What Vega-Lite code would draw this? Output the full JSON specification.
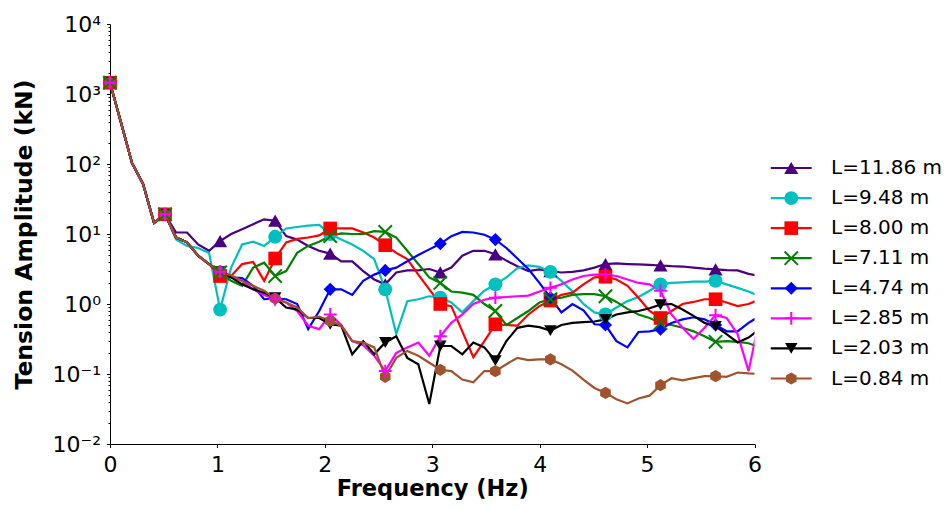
{
  "$schema": "https://vega.github.io/schema/vega-lite/v6.json",
  "padding": {"left": 12, "top": 13, "right": 0, "bottom": 0},
  "bounds": "flush",
  "spacing": 10,
  "config": {
    "font": "DejaVu Sans",
    "view": {"stroke": null},
    "axis": {"labelColor": "black", "titleColor": "black", "tickColor": "black", "domainColor": "black", "grid": false, "labelFlush": false, "labelOverlap": false}
  },
  "datasets": {
    "d": [
      {"i":0,"f":0,"p":1450,"c":1450,"r":1450,"g":1450,"b":1450,"m":1450,"k":1450,"n":1450},
      {"i":1,"f":0.1025,"p":390,"c":390,"r":390,"g":390,"b":390,"m":390,"k":390,"n":390},
      {"i":2,"f":0.205,"p":103,"c":103,"r":103,"g":103,"b":103,"m":103,"k":103,"n":103},
      {"i":3,"f":0.3075,"p":52,"c":52,"r":52,"g":52,"b":52,"m":52,"k":52,"n":52},
      {"i":4,"f":0.41,"p":14.4,"c":14.4,"r":14.4,"g":14.4,"b":14.4,"m":14.4,"k":14.4,"n":14.4},
      {"i":5,"f":0.5125,"p":19.1,"c":19.1,"r":19.1,"g":19.1,"b":19.1,"m":19.1,"k":19.1,"n":19.1},
      {"i":6,"f":0.615,"p":10.5,"c":8.32,"r":8.9,"g":8.9,"b":8.9,"m":8.9,"k":8.9,"n":8.9},
      {"i":7,"f":0.7175,"p":10.5,"c":6.76,"r":7.6,"g":7.6,"b":7.6,"m":7.6,"k":7.6,"n":7.6},
      {"i":8,"f":0.82,"p":7.08,"c":6.31,"r":4.9,"g":4.9,"b":4.9,"m":4.9,"k":4.9,"n":4.9},
      {"i":9,"f":0.9225,"p":5.75,"c":5.37,"r":3.7,"g":3.7,"b":3.7,"m":3.7,"k":3.7,"n":3.7},
      {"i":10,"f":1.025,"p":7.94,"c":0.832,"r":2.51,"g":2.82,"b":2.9,"m":2.9,"k":2.9,"n":2.88},
      {"i":11,"f":1.1275,"p":10,"c":3.31,"r":2.51,"g":2.14,"b":2.4,"m":2.45,"k":2.4,"n":2.57},
      {"i":12,"f":1.23,"p":11.7,"c":7.08,"r":3.72,"g":1.82,"b":2.34,"m":2.14,"k":1.91,"n":2.14},
      {"i":13,"f":1.3325,"p":13.8,"c":7.76,"r":3.98,"g":3.31,"b":1.82,"m":1.62,"k":1.62,"n":1.82},
      {"i":14,"f":1.435,"p":16.2,"c":6.76,"r":2.14,"g":3.89,"b":1.17,"m":1.35,"k":1.45,"n":1.55},
      {"i":15,"f":1.5375,"p":15.5,"c":9.12,"r":4.47,"g":2.51,"b":1.2,"m":1.17,"k":1.23,"n":1.2},
      {"i":16,"f":1.64,"p":9.33,"c":12,"r":7.59,"g":2.95,"b":1.17,"m":1.05,"k":0.891,"n":1.05},
      {"i":17,"f":1.7425,"p":8.32,"c":12.6,"r":8.51,"g":5.37,"b":1,"m":0.794,"k":0.832,"n":0.891},
      {"i":18,"f":1.845,"p":6.76,"c":13.2,"r":8.91,"g":6.76,"b":0.437,"m":0.49,"k":0.631,"n":0.631},
      {"i":19,"f":1.9475,"p":5.75,"c":13.5,"r":9.55,"g":7.76,"b":0.794,"m":0.437,"k":0.631,"n":0.661},
      {"i":20,"f":2.05,"p":5.25,"c":10,"r":12,"g":9.33,"b":1.62,"m":0.708,"k":0.513,"n":0.575},
      {"i":21,"f":2.1525,"p":4.07,"c":8.32,"r":12,"g":10.2,"b":1.62,"m":0.501,"k":0.49,"n":0.49},
      {"i":22,"f":2.255,"p":4.07,"c":7.08,"r":12,"g":10,"b":1.35,"m":0.295,"k":0.191,"n":0.295},
      {"i":23,"f":2.3575,"p":2.95,"c":5.75,"r":10.5,"g":10,"b":2.14,"m":0.257,"k":0.295,"n":0.282},
      {"i":24,"f":2.46,"p":2.24,"c":4.37,"r":8.91,"g":11,"b":2.63,"m":0.182,"k":0.191,"n":0.24},
      {"i":25,"f":2.5625,"p":1.91,"c":1.62,"r":6.92,"g":10.7,"b":3.02,"m":0.11,"k":0.282,"n":0.0912},
      {"i":26,"f":2.665,"p":2.82,"c":0.372,"r":5.37,"g":8.91,"b":3.31,"m":0.2,"k":0.347,"n":0.17},
      {"i":27,"f":2.7675,"p":3.02,"c":1.1,"r":4.37,"g":5.75,"b":4.07,"m":0.24,"k":0.17,"n":0.214},
      {"i":28,"f":2.87,"p":3.02,"c":1.17,"r":2.63,"g":3.72,"b":5.01,"m":0.282,"k":0.138,"n":0.182},
      {"i":29,"f":2.9725,"p":3.16,"c":1.29,"r":1.62,"g":2.4,"b":6.03,"m":0.182,"k":0.0372,"n":0.145},
      {"i":30,"f":3.075,"p":2.82,"c":1.23,"r":1,"g":2,"b":7.24,"m":0.347,"k":0.251,"n":0.115},
      {"i":31,"f":3.1775,"p":3.31,"c":1.05,"r":0.933,"g":1.51,"b":9.33,"m":0.537,"k":0.251,"n":0.11},
      {"i":32,"f":3.28,"p":4.9,"c":0.759,"r":0.407,"g":1.45,"b":10.7,"m":0.708,"k":0.191,"n":0.0832},
      {"i":33,"f":3.3825,"p":5.75,"c":1.1,"r":0.174,"g":1.35,"b":10.5,"m":1,"k":0.282,"n":0.0759},
      {"i":34,"f":3.485,"p":5.75,"c":1.55,"r":0.295,"g":1,"b":9.77,"m":1.15,"k":0.24,"n":0.11},
      {"i":35,"f":3.5875,"p":5.13,"c":1.91,"r":0.513,"g":0.794,"b":8.32,"m":1.23,"k":0.155,"n":0.11},
      {"i":36,"f":3.69,"p":4.17,"c":2.4,"r":0.501,"g":0.501,"b":6.31,"m":1.26,"k":0.295,"n":0.138},
      {"i":37,"f":3.7925,"p":3.47,"c":3.24,"r":0.49,"g":0.631,"b":4.47,"m":1.29,"k":0.457,"n":0.17},
      {"i":38,"f":3.895,"p":2.95,"c":3.55,"r":0.708,"g":0.794,"b":3.16,"m":1.32,"k":0.49,"n":0.158},
      {"i":39,"f":3.9975,"p":3.13,"c":3.39,"r":0.933,"g":1.05,"b":2,"m":1.51,"k":0.468,"n":0.162},
      {"i":40,"f":4.1,"p":2.95,"c":2.88,"r":1.12,"g":1.17,"b":1.23,"m":1.7,"k":0.417,"n":0.162},
      {"i":41,"f":4.2025,"p":2.82,"c":2.14,"r":1.35,"g":1.23,"b":0.759,"m":1.91,"k":0.501,"n":0.138},
      {"i":42,"f":4.305,"p":2.88,"c":1.51,"r":1.45,"g":1.35,"b":1,"m":2.24,"k":0.537,"n":0.112},
      {"i":43,"f":4.4075,"p":3.02,"c":1,"r":1.91,"g":1.38,"b":0.813,"m":2.51,"k":0.55,"n":0.0832},
      {"i":44,"f":4.51,"p":3.31,"c":0.759,"r":2.4,"g":1.38,"b":0.513,"m":2.63,"k":0.562,"n":0.0631},
      {"i":45,"f":4.6125,"p":3.72,"c":0.708,"r":2.45,"g":1.29,"b":0.501,"m":2.63,"k":0.603,"n":0.0537},
      {"i":46,"f":4.715,"p":3.8,"c":0.891,"r":2.24,"g":1.07,"b":0.295,"m":2.51,"k":0.708,"n":0.0437},
      {"i":47,"f":4.8175,"p":3.72,"c":1.1,"r":1.82,"g":0.851,"b":0.24,"m":2.24,"k":0.759,"n":0.038},
      {"i":48,"f":4.92,"p":3.67,"c":1.26,"r":1.23,"g":0.708,"b":0.398,"m":2,"k":0.794,"n":0.0447},
      {"i":49,"f":5.0225,"p":3.63,"c":1.55,"r":0.794,"g":0.631,"b":0.407,"m":1.91,"k":0.871,"n":0.049},
      {"i":50,"f":5.125,"p":3.55,"c":1.91,"r":0.631,"g":0.537,"b":0.437,"m":1.55,"k":0.977,"n":0.0692},
      {"i":51,"f":5.2275,"p":3.47,"c":2,"r":0.794,"g":0.501,"b":0.537,"m":0.708,"k":1,"n":0.0871},
      {"i":52,"f":5.33,"p":3.43,"c":2.04,"r":1,"g":0.457,"b":0.603,"m":0.457,"k":0.832,"n":0.0813},
      {"i":53,"f":5.4325,"p":3.31,"c":2.09,"r":1.07,"g":0.407,"b":0.646,"m":0.316,"k":0.676,"n":0.0871},
      {"i":54,"f":5.535,"p":3.2,"c":2.09,"r":1.17,"g":0.347,"b":0.603,"m":0.457,"k":0.537,"n":0.0933},
      {"i":55,"f":5.6375,"p":3.13,"c":2.14,"r":1.17,"g":0.288,"b":0.501,"m":0.692,"k":0.479,"n":0.0933},
      {"i":56,"f":5.74,"p":3.05,"c":1.91,"r":1.05,"g":0.295,"b":0.407,"m":0.631,"k":0.372,"n":0.0912},
      {"i":57,"f":5.8425,"p":3.02,"c":1.7,"r":0.933,"g":0.288,"b":0.407,"m":0.372,"k":0.282,"n":0.105},
      {"i":58,"f":5.945,"p":2.69,"c":1.51,"r":1,"g":0.275,"b":0.537,"m":0.11,"k":0.331,"n":0.102},
      {"i":59,"f":6.0475,"p":2.51,"c":1.29,"r":1.17,"g":0.24,"b":0.676,"m":0.631,"k":0.437,"n":0.1}
    ],
    "leg": [
      {"id":"p","label":"L=11.86 m"},
      {"id":"c","label":"L=9.48 m"},
      {"id":"r","label":"L=8.00 m"},
      {"id":"g","label":"L=7.11 m"},
      {"id":"b","label":"L=4.74 m"},
      {"id":"m","label":"L=2.85 m"},
      {"id":"k","label":"L=2.03 m"},
      {"id":"n","label":"L=0.84 m"}
    ]
  },
  "hconcat": [
    {
      "width": 644.5,
      "height": 420,
      "data": {"name": "d"},
      "transform": [{"fold": ["p","c","r","g","b","m","k","n"], "as": ["s","v"]}],
      "encoding": {
        "x": {
          "field": "f", "type": "quantitative",
          "scale": {"domain": [0, 6], "nice": false, "zero": false},
          "axis": {"values": [0,1,2,3,4,5,6], "format": "d", "title": "Frequency (Hz)", "labelFontSize": 22, "titleFontSize": 22.5, "titleFontWeight": "bold", "tickSize": 3.5, "tickWidth": 1, "domainWidth": 1, "labelPadding": 6.5, "titlePadding": 2.5}
        },
        "y": {
          "field": "v", "type": "quantitative",
          "scale": {"type": "log", "domain": [0.01, 10000], "nice": false},
          "axis": {
            "values": [0.01,0.02,0.03,0.04,0.05,0.06,0.07,0.08,0.09,0.1,0.2,0.3,0.4,0.5,0.6,0.7,0.8,0.9,1,2,3,4,5,6,7,8,9,10,20,30,40,50,60,70,80,90,100,200,300,400,500,600,700,800,900,1000,2000,3000,4000,5000,6000,7000,8000,9000,10000],
            "labelExpr": "datum.value == 0.01 ? '10⁻²' : datum.value == 0.1 ? '10⁻¹' : datum.value == 1 ? '10⁰' : datum.value == 10 ? '10¹' : datum.value == 100 ? '10²' : datum.value == 1000 ? '10³' : datum.value == 10000 ? '10⁴' : ''",
            "tickSize": {"condition": {"test": "indexof([0.01,0.1,1,10,100,1000,10000], datum.value) >= 0", "value": 3.5}, "value": 2},
            "tickWidth": 1, "domainWidth": 1,
            "title": "Tension Amplitude (kN)", "labelFontSize": 22, "titleFontSize": 23.5, "titleFontWeight": "bold", "labelPadding": 6, "titlePadding": 16
          }
        },
        "color": {
          "field": "s", "type": "nominal",
          "scale": {"domain": ["p","c","r","g","b","m","k","n"], "range": ["#4B0082","#00BFBF","#FF0000","#008000","#0000FF","#FF00FF","#000000","#A0522D"]},
          "legend": null
        }
      },
      "layer": [
        {"mark": {"type": "line", "strokeWidth": 2.2, "clip": true}},
        {
          "transform": [{"filter": "datum.i % 5 == 0 && datum.s != 'g' && datum.s != 'm'"}],
          "mark": {"type": "point", "filled": true, "opacity": 1},
          "encoding": {
            "shape": {"field": "s", "type": "nominal", "scale": {"domain": ["p","c","r","g","b","m","k","n"], "range": ["triangle-up","circle","square","M-1,-1L1,1M-1,1L1,-1","diamond","M-1,0L1,0M0,-1L0,1","triangle-down","M0,-1L0.866,-0.5L0.866,0.5L0,1L-0.866,0.5L-0.866,-0.5Z"]}, "legend": null},
            "size": {"field": "s", "type": "nominal", "scale": {"domain": ["p","c","r","g","b","m","k","n"], "range": [200,150,160,180,250,200,200,190]}, "legend": null}
          }
        },
        {
          "transform": [{"filter": "datum.i % 5 == 0 && (datum.s == 'g' || datum.s == 'm')"}],
          "mark": {"type": "point", "filled": false, "opacity": 1, "strokeWidth": 2},
          "encoding": {
            "shape": {"field": "s", "type": "nominal", "scale": {"domain": ["p","c","r","g","b","m","k","n"], "range": ["triangle-up","circle","square","M-1,-1L1,1M-1,1L1,-1","diamond","M-1,0L1,0M0,-1L0,1","triangle-down","M0,-1L0.866,-0.5L0.866,0.5L0,1L-0.866,0.5L-0.866,-0.5Z"]}, "legend": null},
            "size": {"field": "s", "type": "nominal", "scale": {"domain": ["p","c","r","g","b","m","k","n"], "range": [200,150,160,180,250,200,200,190]}, "legend": null}
          }
        }
      ]
    },
    {
      "width": 181,
      "height": 420,
      "data": {"name": "leg"},
      "encoding": {
        "y": {"field": "id", "type": "nominal", "scale": {"type": "point", "padding": 0, "domain": ["p","c","r","g","b","m","k","n"], "range": [144, 354.5]}, "axis": null},
        "color": {
          "field": "id", "type": "nominal",
          "scale": {"domain": ["p","c","r","g","b","m","k","n"], "range": ["#4B0082","#00BFBF","#FF0000","#008000","#0000FF","#FF00FF","#000000","#A0522D"]},
          "legend": null
        }
      },
      "layer": [
        {
          "mark": {"type": "rule", "strokeWidth": 2.2},
          "encoding": {
            "x": {"datum": 3.2, "type": "quantitative", "scale": {"domain": [0, 100]}, "axis": null},
            "x2": {"datum": 25.8}
          }
        },
        {
          "transform": [{"filter": "datum.id != 'g' && datum.id != 'm'"}],
          "mark": {"type": "point", "filled": true, "opacity": 1},
          "encoding": {
            "x": {"datum": 14.5, "type": "quantitative", "scale": {"domain": [0, 100]}, "axis": null},
            "shape": {"field": "id", "type": "nominal", "scale": {"domain": ["p","c","r","g","b","m","k","n"], "range": ["triangle-up","circle","square","M-1,-1L1,1M-1,1L1,-1","diamond","M-1,0L1,0M0,-1L0,1","triangle-down","M0,-1L0.866,-0.5L0.866,0.5L0,1L-0.866,0.5L-0.866,-0.5Z"]}, "legend": null},
            "size": {"field": "id", "type": "nominal", "scale": {"domain": ["p","c","r","g","b","m","k","n"], "range": [200,150,160,180,250,200,200,190]}, "legend": null}
          }
        },
        {
          "transform": [{"filter": "datum.id == 'g' || datum.id == 'm'"}],
          "mark": {"type": "point", "filled": false, "opacity": 1, "strokeWidth": 2},
          "encoding": {
            "x": {"datum": 14.5, "type": "quantitative", "scale": {"domain": [0, 100]}, "axis": null},
            "shape": {"field": "id", "type": "nominal", "scale": {"domain": ["p","c","r","g","b","m","k","n"], "range": ["triangle-up","circle","square","M-1,-1L1,1M-1,1L1,-1","diamond","M-1,0L1,0M0,-1L0,1","triangle-down","M0,-1L0.866,-0.5L0.866,0.5L0,1L-0.866,0.5L-0.866,-0.5Z"]}, "legend": null},
            "size": {"field": "id", "type": "nominal", "scale": {"domain": ["p","c","r","g","b","m","k","n"], "range": [200,150,160,180,250,200,200,190]}, "legend": null}
          }
        },
        {
          "mark": {"type": "text", "align": "left", "baseline": "middle", "fontSize": 20},
          "encoding": {
            "x": {"datum": 36.5, "type": "quantitative", "scale": {"domain": [0, 100]}, "axis": null},
            "text": {"field": "label"},
            "color": {"value": "black"}
          }
        }
      ]
    }
  ]
}
